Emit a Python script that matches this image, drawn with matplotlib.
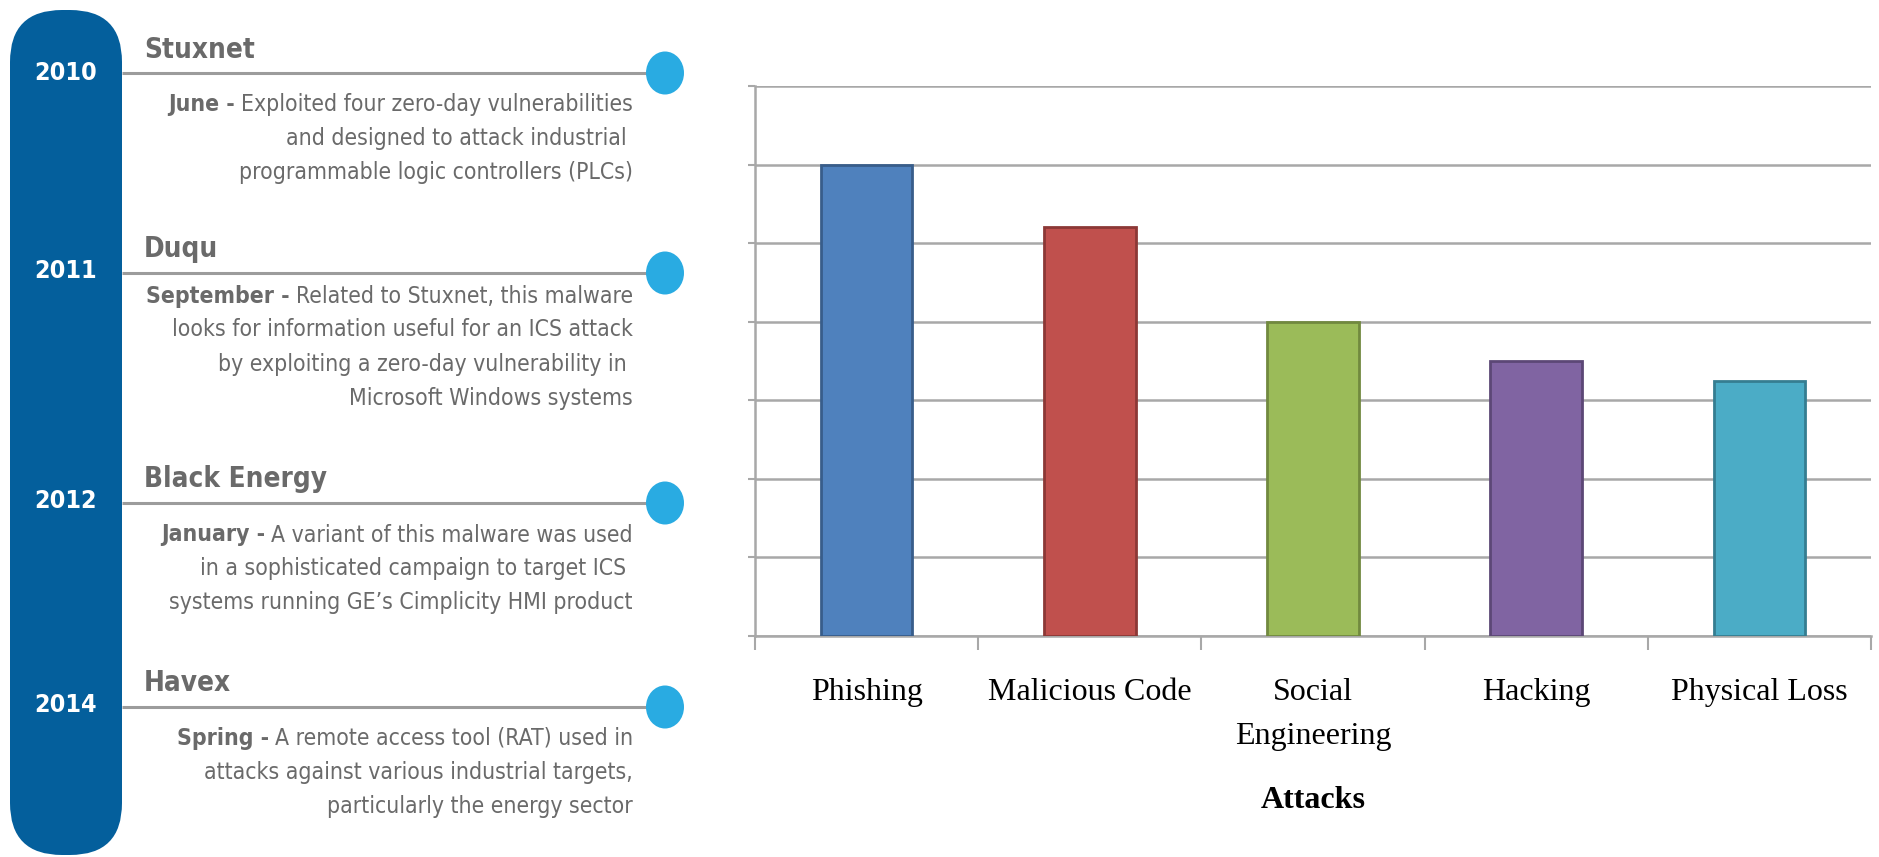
import matplotlib
matplotlib.use('Agg')
import matplotlib.pyplot as plt
from matplotlib.patches import FancyBboxPatch, Ellipse

SANS = 'DejaVu Sans'      # used with fontstretch='condensed'
SERIF = 'Liberation Serif'

# ── timeline data (left panel) ──
YEARS = ['2010', '2011', '2012', '2014']
NAMES = ['Stuxnet', 'Duqu', 'Black Energy', 'Havex']
MONTHS = ['June', 'September', 'January', 'Spring']
DESCRIPTIONS = [
    ['Exploited four zero-day vulnerabilities',
     'and designed to attack industrial ',
     'programmable logic controllers (PLCs)'],
    ['Related to Stuxnet, this malware',
     'looks for information useful for an ICS attack',
     'by exploiting a zero-day vulnerability in ',
     'Microsoft Windows systems'],
    ['A variant of this malware was used',
     'in a sophisticated campaign to target ICS ',
     'systems running GE\u2019s Cimplicity HMI product'],
    ['A remote access tool (RAT) used in',
     'attacks against various industrial targets,',
     'particularly the energy sector'],
]

# ── bar chart data (right panel) ──
CATEGORIES = ['Phishing', 'Malicious Code', 'Social\nEngineering', 'Hacking', 'Physical Loss']
VALUES = [6.0, 5.2, 4.0, 3.5, 3.25]
X_LABEL = 'Attacks'

BLUE_BAR = '#045F9C'
DOT = '#29ABE2'
GREY_TXT = '#6A6A6A'
GRID = '#A8A8A8'
FILLS = ['#4F81BD', '#C0504D', '#9BBB59', '#8064A2', '#4BACC6']
EDGES = ['#385D8A', '#8C3836', '#71893F', '#5C4776', '#357D91']

W, H = 1879, 857
fig = plt.figure(figsize=(W / 100, H / 100), dpi=100)

# full-figure axes in pixel units for the timeline
bg = fig.add_axes([0, 0, 1, 1])
bg.set_xlim(0, W)
bg.set_ylim(H, 0)
bg.axis('off')

bg.add_patch(FancyBboxPatch((10, 10), 112, 845,
                            boxstyle='round,pad=0,rounding_size=52',
                            facecolor=BLUE_BAR, edgecolor='none'))

year_y = [73, 271, 501, 705]
line_y = [73, 273, 503, 707]
title_y = [50, 249, 479, 683]
body_y = [104, 296, 535, 738]
line_h = 34
x_right = 633

fig.canvas.draw()
renderer = fig.canvas.get_renderer()
inv = bg.transData.inverted()

for i in range(len(YEARS)):
    bg.text(66, year_y[i], YEARS[i], ha='center', va='center', color='white',
            fontsize=18, fontweight='bold', family=SANS, fontstretch='condensed')
    bg.plot([122, 650], [line_y[i], line_y[i]], color='#9C9C9C', lw=2.2,
            solid_capstyle='butt', zorder=2)
    bg.add_patch(Ellipse((665, line_y[i]), 38, 43, facecolor=DOT,
                         edgecolor='none', zorder=3))
    bg.text(144, title_y[i], NAMES[i], ha='left', va='center', color=GREY_TXT,
            fontsize=20, fontweight='bold', family=SANS, fontstretch='condensed')
    for j, ln in enumerate(DESCRIPTIONS[i]):
        t = bg.text(x_right, body_y[i] + j * line_h, ln, ha='right', va='center',
                    color=GREY_TXT, fontsize=16.5, family=SANS, fontstretch='condensed')
        if j == 0:
            # bold month sits just left of the right-aligned first line
            bb = t.get_window_extent(renderer=renderer)
            x0 = inv.transform((bb.x0, bb.y0))[0]
            bg.text(x0 - 6, body_y[i], MONTHS[i] + ' -', ha='right', va='center',
                    color=GREY_TXT, fontsize=16.5, fontweight='bold', family=SANS,
                    fontstretch='condensed')

# ── bar chart ──
ax = fig.add_axes([755 / W, (H - 636) / H, (1871 - 755) / W, 550 / H])
x = list(range(len(CATEGORIES)))
ax.bar(x, VALUES, width=0.41, color=FILLS, edgecolor=EDGES, linewidth=2, zorder=3)
ax.set_xlim(-0.5, len(CATEGORIES) - 0.5)
ax.set_ylim(0, 7)
ax.set_yticks(range(0, 8))
ax.set_yticklabels([])
ax.yaxis.grid(True, color=GRID, lw=1.8, zorder=0)
ax.set_axisbelow(True)
for s in ('top', 'right'):
    ax.spines[s].set_visible(False)
for s in ('left', 'bottom'):
    ax.spines[s].set_color(GRID)
    ax.spines[s].set_linewidth(1.8)
ax.tick_params(axis='y', length=5, width=1.5, color=GRID)
ax.set_xticks([k - 0.5 for k in range(len(CATEGORIES) + 1)])
ax.set_xticklabels([])
ax.tick_params(axis='x', which='major', length=10, width=1.5, color=GRID)
ax.set_xticks(x, minor=True)
ax.set_xticklabels(CATEGORIES, minor=True, family=SERIF, fontsize=23,
                   linespacing=1.7)
ax.tick_params(axis='x', which='minor', length=0, pad=30)
ax.set_xlabel(X_LABEL, family=SERIF, fontsize=23, fontweight='bold', labelpad=25)

fig.savefig('out.png', dpi=100, facecolor='white')
